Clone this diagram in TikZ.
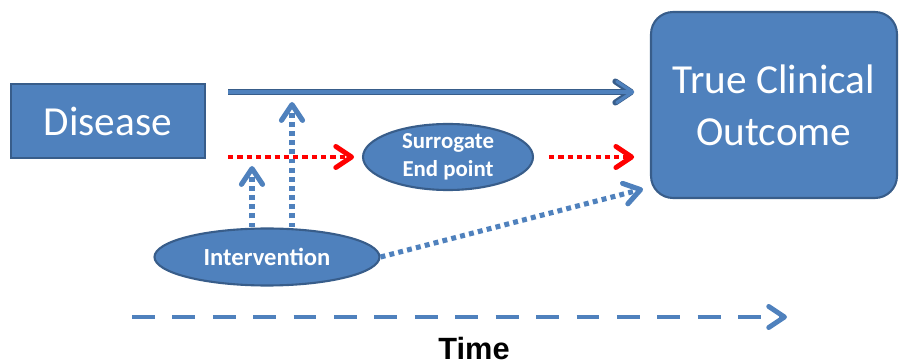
\documentclass[tikz,border=0pt]{standalone}
\usepackage{fontspec}
\setmainfont{Carlito}
\newfontfamily\timefont{Liberation Sans}
\usetikzlibrary{arrows.meta,shapes.geometric}
\definecolor{boxblue}{HTML}{4F81BD}
\definecolor{edgeblue}{HTML}{385D8A}

\begin{document}
\begin{tikzpicture}[x=0.02cm,y=-0.02cm,
  box/.style={draw=edgeblue,fill=boxblue,line width=1.2pt,text=white,align=center,
    font=\fontsize{23.5}{29.5}\selectfont},
  oval/.style={ellipse,draw=edgeblue,fill=boxblue,line width=1.2pt,text=white,
    align=center,inner sep=0pt,font=\fontsize{13}{16}\selectfont\bfseries},
  tip/.style={-{Straight Barb[length=9pt,width=12pt,line cap=round,line join=round]}},
  reddots/.style={draw=red,line width=2.8pt,dash pattern=on 3pt off 2.3pt,tip},
  bluedots/.style={draw=boxblue,line width=2.9pt,dash pattern=on 2.8pt off 2.4pt,tip},
  mainline/.style={draw=edgeblue,double=boxblue,double distance=1.8pt,line width=0.8pt},
  timeline/.style={draw=boxblue,line width=2.8pt,dash pattern=on 13pt off 10pt,tip}]
\useasboundingbox (0,0) rectangle (899,364);

\node[box,minimum width=3.88cm,minimum height=1.48cm] (disease) at (108,121) {Disease};
\node[box,rounded corners=0.44cm,minimum width=4.92cm,minimum height=3.72cm] (outcome) at (774,105) {True Clinical\\Outcome};
\node[oval,minimum width=3.4cm,minimum height=1.32cm] (surrogate) at (448,157) {Surrogate\\End point};
\node[oval,minimum width=4.5cm,minimum height=1.14cm,font=\fontsize{14}{17}\selectfont\bfseries] (intervention) at (267,257) {Intervention};
\node[font=\timefont\fontsize{17.5}{21}\selectfont\bfseries] (time) at (474,349) {Time};

\coordinate (start) at (228,92);
\coordinate (redstart) at (228,157);
\coordinate (upA) at (252,166);
\coordinate (upB) at (292,102);
\coordinate (diagend) at (643,189);
\coordinate (t0) at (132,317);
\coordinate (t1) at (787,317);

% outlined main arrow: shaft and chevron drawn twice
\draw[draw=edgeblue,line width=3.4pt,-{Straight Barb[length=9pt,width=12pt,line cap=round,line join=round]},shorten >=9pt] (start) -- (outcome.west |- start);
\draw[draw=boxblue,line width=1.8pt,-{Straight Barb[length=9pt,width=12pt,line cap=round,line join=round]},shorten >=9pt] (start) -- (outcome.west |- start);
\draw[reddots,shorten >=4.5pt] (redstart) -- (surrogate.west);
\draw[reddots,shorten <=8.5pt,shorten >=9pt] (surrogate.east) -- (outcome.west |- surrogate.east);
\draw[bluedots] (upA |- intervention.north) -- (upA);
\draw[bluedots] (upB |- intervention.north) -- (upB);
\draw[bluedots] (intervention.east) -- (diagend);
\draw[timeline] (t0) -- (t1);
\end{tikzpicture}
\end{document}
